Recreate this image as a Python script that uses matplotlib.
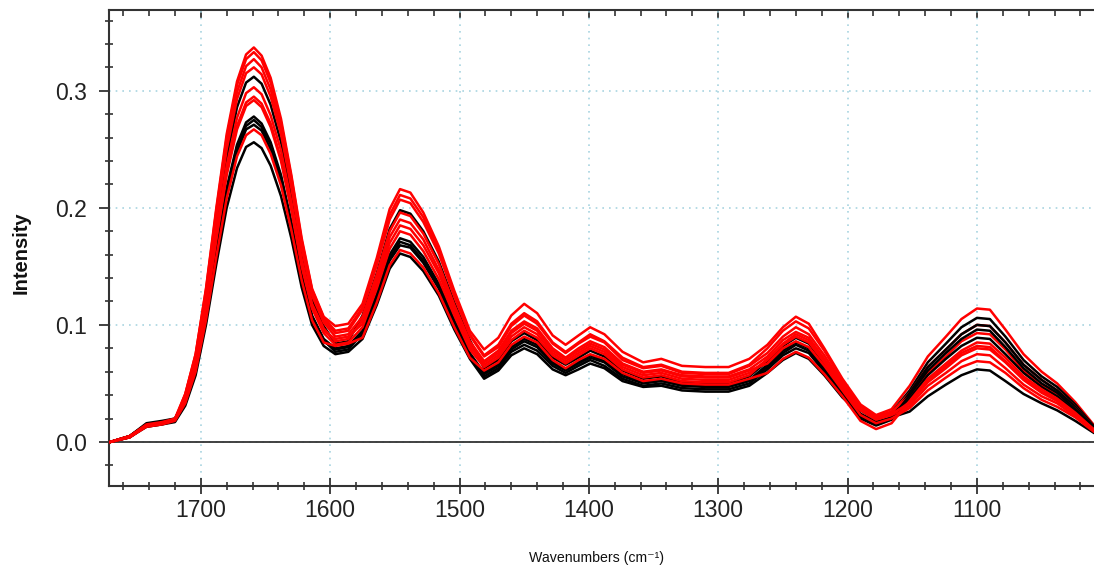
import matplotlib
matplotlib.use("Agg")
import matplotlib.pyplot as plt
from matplotlib.ticker import MultipleLocator

plt.rcParams['font.family'] = ['Liberation Sans', 'DejaVu Sans']

# wavenumber grid (cm-1)
wavenumbers = [1770, 1755, 1742, 1730, 1720, 1712, 1704, 1696, 1688, 1680, 1672, 1665, 1659, 1653,
               1646, 1638, 1630, 1622, 1614, 1605, 1596, 1586, 1575, 1564, 1554, 1546, 1538, 1528,
               1516, 1504, 1492, 1481, 1470, 1460, 1450, 1440, 1428, 1418, 1408, 1399, 1388, 1374,
               1358, 1344, 1328, 1310, 1292, 1276, 1262, 1250, 1240, 1230, 1218, 1204, 1190, 1178,
               1166, 1152, 1138, 1124, 1112, 1100, 1090, 1078, 1064, 1050, 1038, 1024, 1010]

# red spectra
red_1 = [0.000, 0.005, 0.015, 0.017, 0.020, 0.041, 0.075, 0.131, 0.200, 0.263, 0.308, 0.331, 0.337, 0.330,
         0.311, 0.276, 0.228, 0.174, 0.131, 0.107, 0.099, 0.101, 0.118, 0.157, 0.199, 0.216, 0.213, 0.196,
         0.167, 0.129, 0.095, 0.079, 0.089, 0.108, 0.118, 0.110, 0.091, 0.083, 0.091, 0.098, 0.092, 0.077,
         0.068, 0.071, 0.065, 0.064, 0.064, 0.071, 0.083, 0.098, 0.107, 0.101, 0.080, 0.054, 0.032, 0.023,
         0.028, 0.048, 0.073, 0.090, 0.105, 0.114, 0.113, 0.096, 0.075, 0.060, 0.050, 0.034, 0.015]
red_2 = [0.000, 0.004, 0.014, 0.016, 0.019, 0.041, 0.075, 0.130, 0.198, 0.260, 0.305, 0.327, 0.333, 0.326,
         0.307, 0.273, 0.226, 0.172, 0.130, 0.106, 0.095, 0.097, 0.115, 0.153, 0.194, 0.211, 0.208, 0.192,
         0.164, 0.126, 0.092, 0.074, 0.083, 0.101, 0.110, 0.103, 0.085, 0.077, 0.085, 0.092, 0.086, 0.072,
         0.064, 0.066, 0.060, 0.059, 0.059, 0.066, 0.080, 0.095, 0.103, 0.097, 0.078, 0.052, 0.030, 0.021,
         0.025, 0.042, 0.064, 0.079, 0.092, 0.100, 0.099, 0.085, 0.066, 0.053, 0.044, 0.030, 0.013]
red_3 = [0.000, 0.005, 0.013, 0.015, 0.018, 0.040, 0.073, 0.127, 0.194, 0.255, 0.299, 0.321, 0.327, 0.320,
         0.301, 0.268, 0.222, 0.168, 0.127, 0.104, 0.093, 0.095, 0.113, 0.151, 0.190, 0.207, 0.204, 0.188,
         0.161, 0.124, 0.091, 0.073, 0.081, 0.099, 0.108, 0.101, 0.084, 0.076, 0.084, 0.090, 0.085, 0.070,
         0.063, 0.065, 0.059, 0.058, 0.058, 0.065, 0.076, 0.090, 0.098, 0.092, 0.074, 0.050, 0.031, 0.022,
         0.026, 0.039, 0.059, 0.073, 0.086, 0.093, 0.092, 0.079, 0.061, 0.049, 0.041, 0.028, 0.012]
red_4 = [0.000, 0.004, 0.014, 0.016, 0.019, 0.039, 0.072, 0.125, 0.190, 0.250, 0.293, 0.315, 0.320, 0.314,
         0.295, 0.263, 0.217, 0.165, 0.125, 0.102, 0.090, 0.092, 0.107, 0.143, 0.180, 0.196, 0.193, 0.178,
         0.152, 0.117, 0.086, 0.069, 0.078, 0.095, 0.103, 0.097, 0.080, 0.072, 0.080, 0.086, 0.081, 0.067,
         0.060, 0.062, 0.057, 0.056, 0.056, 0.062, 0.073, 0.087, 0.094, 0.089, 0.071, 0.048, 0.028, 0.020,
         0.024, 0.033, 0.051, 0.063, 0.074, 0.080, 0.079, 0.068, 0.053, 0.042, 0.035, 0.024, 0.011]
red_5 = [0.000, 0.005, 0.014, 0.016, 0.019, 0.037, 0.068, 0.118, 0.180, 0.236, 0.277, 0.298, 0.303, 0.297,
         0.279, 0.249, 0.205, 0.156, 0.118, 0.097, 0.086, 0.088, 0.104, 0.138, 0.175, 0.190, 0.187, 0.173,
         0.147, 0.114, 0.083, 0.066, 0.074, 0.090, 0.098, 0.092, 0.076, 0.069, 0.076, 0.082, 0.077, 0.064,
         0.057, 0.059, 0.054, 0.053, 0.053, 0.059, 0.070, 0.083, 0.090, 0.085, 0.068, 0.045, 0.024, 0.017,
         0.021, 0.031, 0.048, 0.059, 0.069, 0.075, 0.074, 0.063, 0.049, 0.039, 0.033, 0.022, 0.010]
red_6 = [0.000, 0.005, 0.015, 0.017, 0.020, 0.036, 0.066, 0.115, 0.175, 0.230, 0.270, 0.290, 0.295, 0.289,
         0.272, 0.242, 0.200, 0.152, 0.115, 0.095, 0.088, 0.090, 0.101, 0.135, 0.170, 0.185, 0.182, 0.168,
         0.144, 0.111, 0.081, 0.068, 0.076, 0.093, 0.101, 0.095, 0.078, 0.071, 0.078, 0.084, 0.079, 0.066,
         0.059, 0.061, 0.056, 0.055, 0.055, 0.061, 0.067, 0.080, 0.086, 0.081, 0.065, 0.044, 0.023, 0.016,
         0.020, 0.029, 0.044, 0.055, 0.064, 0.069, 0.068, 0.059, 0.046, 0.036, 0.030, 0.021, 0.009]
red_7 = [0.000, 0.004, 0.013, 0.015, 0.018, 0.033, 0.060, 0.104, 0.158, 0.208, 0.244, 0.262, 0.267, 0.262,
         0.246, 0.219, 0.181, 0.138, 0.104, 0.085, 0.082, 0.084, 0.089, 0.119, 0.151, 0.164, 0.161, 0.149,
         0.127, 0.098, 0.072, 0.061, 0.068, 0.083, 0.090, 0.085, 0.070, 0.063, 0.070, 0.075, 0.071, 0.059,
         0.052, 0.054, 0.050, 0.049, 0.049, 0.054, 0.059, 0.071, 0.077, 0.072, 0.058, 0.039, 0.018, 0.011,
         0.016, 0.035, 0.054, 0.067, 0.078, 0.085, 0.084, 0.072, 0.056, 0.045, 0.037, 0.025, 0.011]
red_8 = [0.000, 0.004, 0.014, 0.016, 0.019, 0.036, 0.065, 0.114, 0.173, 0.228, 0.267, 0.287, 0.292, 0.286,
         0.269, 0.240, 0.198, 0.150, 0.114, 0.093, 0.083, 0.085, 0.098, 0.131, 0.165, 0.180, 0.177, 0.163,
         0.139, 0.108, 0.079, 0.064, 0.072, 0.087, 0.095, 0.089, 0.074, 0.067, 0.074, 0.080, 0.075, 0.062,
         0.055, 0.057, 0.052, 0.051, 0.051, 0.057, 0.071, 0.084, 0.092, 0.087, 0.069, 0.046, 0.027, 0.019,
         0.023, 0.034, 0.052, 0.065, 0.076, 0.082, 0.081, 0.069, 0.054, 0.043, 0.036, 0.024, 0.011]

# black spectra
black_1 = [0.000, 0.005, 0.015, 0.016, 0.019, 0.038, 0.070, 0.122, 0.185, 0.243, 0.286, 0.307, 0.312, 0.306,
           0.288, 0.256, 0.212, 0.161, 0.122, 0.099, 0.084, 0.086, 0.108, 0.144, 0.182, 0.198, 0.195, 0.180,
           0.154, 0.119, 0.087, 0.063, 0.070, 0.086, 0.093, 0.087, 0.072, 0.066, 0.072, 0.078, 0.073, 0.061,
           0.054, 0.056, 0.051, 0.050, 0.050, 0.056, 0.069, 0.082, 0.089, 0.084, 0.067, 0.045, 0.027, 0.019,
           0.025, 0.044, 0.068, 0.084, 0.098, 0.106, 0.105, 0.090, 0.070, 0.056, 0.047, 0.032, 0.014]
black_2 = [0.000, 0.005, 0.016, 0.018, 0.020, 0.034, 0.062, 0.108, 0.165, 0.217, 0.254, 0.273, 0.278, 0.272,
           0.256, 0.228, 0.188, 0.143, 0.108, 0.088, 0.080, 0.082, 0.095, 0.126, 0.160, 0.174, 0.171, 0.158,
           0.135, 0.104, 0.076, 0.059, 0.067, 0.081, 0.088, 0.083, 0.068, 0.062, 0.068, 0.074, 0.069, 0.058,
           0.051, 0.053, 0.049, 0.048, 0.048, 0.053, 0.066, 0.078, 0.085, 0.080, 0.064, 0.043, 0.023, 0.016,
           0.021, 0.042, 0.064, 0.079, 0.092, 0.100, 0.099, 0.085, 0.066, 0.053, 0.044, 0.030, 0.013]
black_3 = [0.000, 0.004, 0.014, 0.016, 0.018, 0.034, 0.062, 0.107, 0.163, 0.214, 0.252, 0.270, 0.275, 0.269,
           0.254, 0.226, 0.186, 0.142, 0.107, 0.087, 0.077, 0.079, 0.093, 0.124, 0.157, 0.171, 0.168, 0.155,
           0.133, 0.102, 0.075, 0.058, 0.065, 0.079, 0.086, 0.081, 0.067, 0.061, 0.067, 0.072, 0.068, 0.056,
           0.050, 0.052, 0.048, 0.047, 0.047, 0.052, 0.064, 0.076, 0.083, 0.078, 0.062, 0.042, 0.022, 0.015,
           0.020, 0.040, 0.061, 0.076, 0.088, 0.096, 0.095, 0.081, 0.063, 0.050, 0.042, 0.028, 0.013]
black_4 = [0.000, 0.005, 0.015, 0.017, 0.019, 0.033, 0.061, 0.106, 0.161, 0.211, 0.248, 0.267, 0.271, 0.266,
           0.250, 0.222, 0.184, 0.140, 0.106, 0.086, 0.079, 0.081, 0.092, 0.122, 0.155, 0.168, 0.166, 0.153,
           0.131, 0.101, 0.074, 0.056, 0.063, 0.077, 0.083, 0.078, 0.065, 0.059, 0.065, 0.070, 0.065, 0.054,
           0.048, 0.050, 0.046, 0.045, 0.045, 0.050, 0.062, 0.074, 0.080, 0.076, 0.060, 0.041, 0.020, 0.014,
           0.019, 0.037, 0.057, 0.071, 0.082, 0.089, 0.088, 0.075, 0.059, 0.047, 0.039, 0.026, 0.012]
black_5 = [0.000, 0.004, 0.013, 0.015, 0.017, 0.031, 0.057, 0.100, 0.152, 0.200, 0.234, 0.252, 0.256, 0.251,
           0.236, 0.210, 0.174, 0.132, 0.100, 0.082, 0.075, 0.077, 0.088, 0.117, 0.148, 0.161, 0.158, 0.146,
           0.125, 0.096, 0.071, 0.054, 0.061, 0.074, 0.080, 0.075, 0.062, 0.057, 0.062, 0.067, 0.063, 0.052,
           0.047, 0.048, 0.044, 0.043, 0.043, 0.048, 0.059, 0.070, 0.076, 0.071, 0.057, 0.038, 0.024, 0.017,
           0.021, 0.026, 0.039, 0.049, 0.057, 0.062, 0.061, 0.052, 0.041, 0.033, 0.027, 0.018, 0.008]

red_spectra = [red_1, red_2, red_3, red_4, red_5, red_6, red_7, red_8]
black_spectra = [black_1, black_2, black_3, black_4, black_5]

fig = plt.figure(figsize=(10.94, 5.71), dpi=100)
ax = fig.add_axes([0.0996, 0.1489, 0.9022, 0.8336])

# draw red and black alternately so both stay visible
order = []
for i in range(max(len(red_spectra), len(black_spectra))):
    if i < len(red_spectra):
        order.append((red_spectra[i], '#ff0000'))
    if i < len(black_spectra):
        order.append((black_spectra[i], '#000000'))
for spec, col in order:
    ax.plot(wavenumbers, spec, color=col, lw=1.8, zorder=3)

ax.axhline(0, color='#333333', lw=1.3, zorder=2)

ax.set_xlim(1771, 1008)
ax.set_ylim(-0.0376, 0.369)

ax.xaxis.set_major_locator(MultipleLocator(100))
ax.xaxis.set_minor_locator(MultipleLocator(20))
ax.yaxis.set_major_locator(MultipleLocator(0.1))
ax.yaxis.set_minor_locator(MultipleLocator(0.02))
ax.yaxis.set_major_formatter(plt.FuncFormatter(lambda v, p: f"{v:.1f}"))

ax.grid(which='major', color='#a8d4e0', linestyle=(0, (1, 3)), lw=1.2, zorder=1)

for side in ['left', 'bottom', 'top', 'right']:
    ax.spines[side].set_color('#333333')
    ax.spines[side].set_linewidth(1.5)

ax.tick_params(axis='x', which='major', direction='inout', length=11, width=1.3,
               labelsize=16.5, pad=4, colors='#333333', labelcolor='#222222')
ax.tick_params(axis='x', which='minor', direction='inout', length=6, width=1.2, colors='#333333')
ax.tick_params(axis='y', which='major', direction='out', length=7, width=1.3,
               labelsize=16.5, pad=9, colors='#333333', labelcolor='#222222')
ax.tick_params(axis='y', which='minor', direction='inout', length=6, width=1.2, colors='#333333')

# ticks pointing down from the top frame
top = ax.secondary_xaxis('top')
top.xaxis.set_major_locator(MultipleLocator(100))
top.xaxis.set_minor_locator(MultipleLocator(20))
top.tick_params(which='major', direction='in', length=6, width=1.3, labeltop=False, colors='#333333')
top.tick_params(which='minor', direction='in', length=4, width=1.2, colors='#333333')
top.spines['top'].set_visible(False)

ax.set_xlabel('Wavenumbers (cm\u207b\u00b9)', fontsize=10.2, color='#111111')
ax.xaxis.set_label_coords(0.494, -0.137)
ax.set_ylabel('Intensity', fontsize=14.5, fontweight='bold', color='#111111')
ax.yaxis.set_label_coords(-0.079, 0.49)

fig.savefig('out.png', dpi=100)
